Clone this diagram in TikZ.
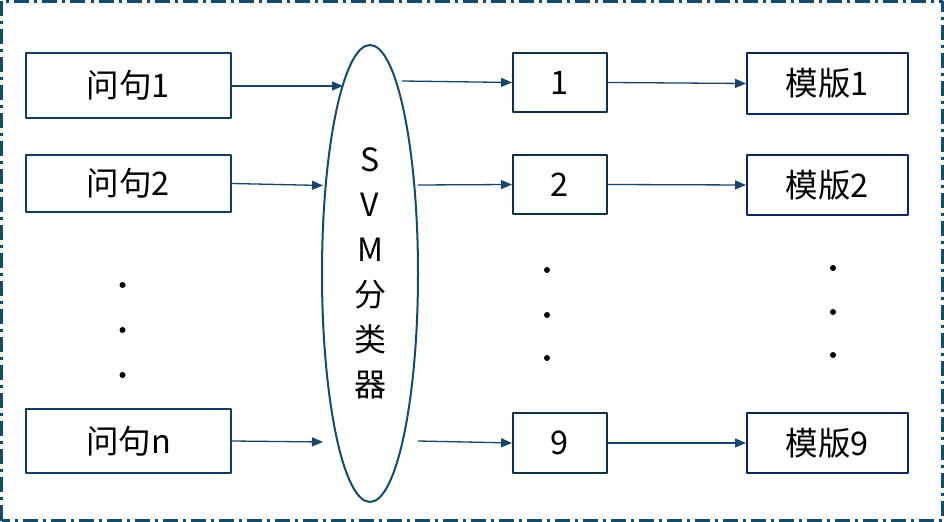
\documentclass[tikz,border=0pt]{standalone}
\usepackage{fontspec}
\setmainfont{Noto Sans CJK SC}
\usepackage{tikz}
\usetikzlibrary{positioning,arrows.meta,shapes.geometric}

\definecolor{framecol}{RGB}{16,76,110}
\definecolor{qcol}{RGB}{13,61,97}
\definecolor{numcol}{RGB}{12,50,72}
\definecolor{tplcol}{RGB}{10,40,95}
\definecolor{arrcol}{RGB}{20,70,110}

\tikzset{
  qbox/.style={draw=qcol,line width=2bp,minimum width=205bp,inner sep=0pt},
  numbox/.style={draw=numcol,line width=2bp,minimum width=94bp,minimum height=59bp,inner sep=0pt},
  tplbox/.style={draw=tplcol,line width=2bp,minimum width=161bp,minimum height=60bp,inner sep=0pt},
  bigdot/.style={circle,fill=black,inner sep=0pt,minimum size=6bp},
  arr/.style={arrcol,line width=1.3bp,-{Triangle[length=11bp,width=9bp]}},
}

\begin{document}
\begin{tikzpicture}[font=\fontsize{32.5bp}{38bp}\selectfont,line join=bevel,]
%%
\useasboundingbox (0bp,0bp) rectangle (944bp,522bp);
\draw [framecol,line width=2.5bp,dash pattern=on 15bp off 5bp on 3bp off 5bp] (1.5bp,1.5bp) rectangle (942.5bp,520.5bp);
%% questions
\node (q1) at (128.5bp,436.5bp) [qbox,minimum height=65bp] {问句1};
  \node (q2) at (128.5bp,338.5bp) [qbox,minimum height=57bp] {问句2};
  \node (qn) at (128.5bp,81bp) [qbox,minimum height=64bp] {问句n};
  \node (dl1) at (122.5bp,237bp) [bigdot] {};
  \node (dl2) at (122.5bp,192bp) [bigdot] {};
  \node (dl3) at (122.5bp,147bp) [bigdot] {};
%% classifier
\node (svm) at (370bp,248.5bp) [ellipse,draw=framecol,line width=2bp,minimum width=96bp,minimum height=457bp,inner sep=0pt,align=center,font=\fontsize{32bp}{45bp}\selectfont] {S\\V\\M\\分\\类\\器};
  \coordinate (in1) at (343bp,436bp);
  \coordinate (in2) at (323bp,336.5bp);
  \coordinate (inn) at (323bp,80bp);
  \coordinate (out1) at (402bp,441bp);
  \coordinate (out2) at (418bp,337bp);
  \coordinate (out9) at (418bp,81bp);
%% class numbers
\node (m1) at (560bp,439.5bp) [numbox] {1};
  \node (m2) at (560bp,337.5bp) [numbox] {2};
  \node (m9) at (560bp,79bp) [numbox,minimum height=60bp] {9};
  \node (dm1) at (547bp,252bp) [bigdot] {};
  \node (dm2) at (547bp,207bp) [bigdot] {};
  \node (dm3) at (547bp,164bp) [bigdot] {};
%% templates
\node (t1) at (827.5bp,438.5bp) [tplbox,minimum height=61bp] {模版1};
  \node (t2) at (827.5bp,337bp) [tplbox] {模版2};
  \node (t9) at (827.5bp,79bp) [tplbox] {模版9};
  \node (dt1) at (833bp,254bp) [bigdot] {};
  \node (dt2) at (833bp,210bp) [bigdot] {};
  \node (dt3) at (833bp,167bp) [bigdot] {};
%% arrows
\draw [arr] (q1.east |- in1) -- (in1);
  \draw [arr] (q2.east) -- (in2);
  \draw [arr] (qn.east) -- (inn);
  \draw [arr] (out1) -- (m1.west);
  \draw [arr] (out2) -- (m2.west);
  \draw [arr] (out9) -- (m9.west);
  \draw [arr] (m1.east) -- (t1.west);
  \draw [arr] (m2.east) -- (t2.west);
  \draw [arr] (m9.east) -- (t9.west);
%
\end{tikzpicture}
\end{document}
